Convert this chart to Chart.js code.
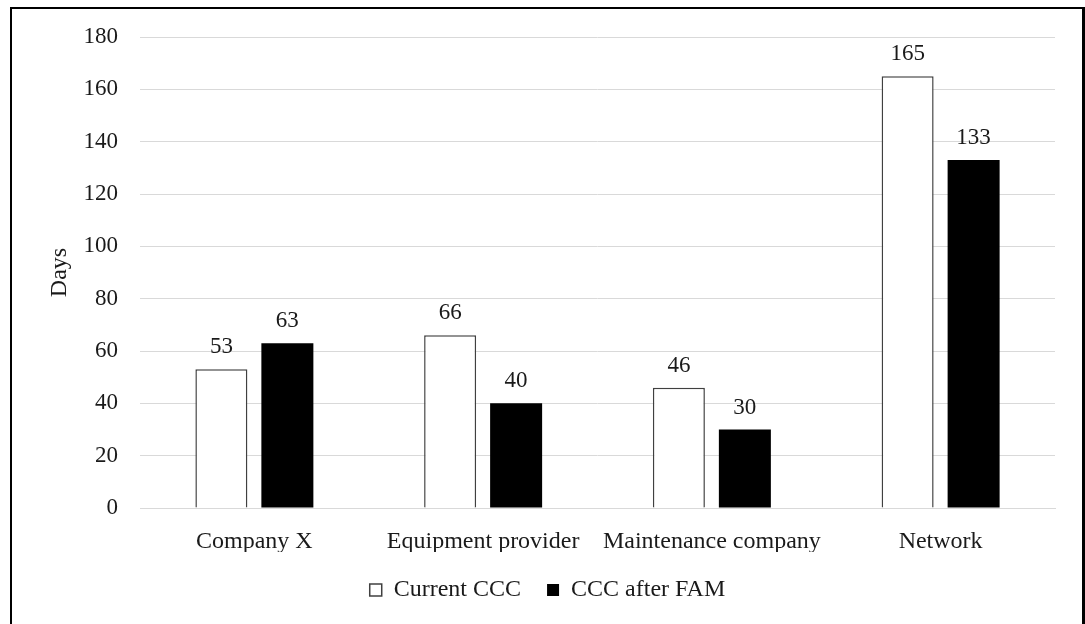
<!DOCTYPE html>
<html>
<head>
<meta charset="utf-8">
<script src="https://cdn.jsdelivr.net/npm/chart.js@4.4.1/dist/chart.umd.min.js"></script>
<style>
  html, body { margin: 0; padding: 0; background: #fff; width: 1085px; height: 624px; overflow: hidden; }
  #frame { position: absolute; left: 10px; top: 7px; width: 1070px; height: 700px; border: 2px solid #000; border-right-width: 3px; }
  #c { position: absolute; left: 0; top: 0; }
</style>
</head>
<body>
<div id="frame"></div>
<canvas id="c" width="1085" height="624"></canvas>
<script>
// Cash conversion cycle, in days
const categories = ['Company X', 'Equipment provider', 'Maintenance company', 'Network'];
const currentCCC = [53, 66, 46, 165];
const cccAfterFAM = [63, 40, 30, 133];
const seriesNames = ['Current CCC', 'CCC after FAM'];
const yMin = 0, yMax = 180, yStep = 20;

const FONT = 'Liberation Serif, "Times New Roman", serif';
const TEXT = '#1a1a1a';

// Value labels above each bar
const barValueLabels = {
  id: 'barValueLabels',
  afterDatasetsDraw(chart) {
    const ctx = chart.ctx;
    ctx.save();
    ctx.font = '23px ' + FONT;
    ctx.fillStyle = TEXT;
    ctx.textAlign = 'center';
    ctx.textBaseline = 'alphabetic';
    chart.data.datasets.forEach((ds, i) => {
      chart.getDatasetMeta(i).data.forEach((bar, j) => {
        ctx.fillText(String(ds.data[j]), bar.x, bar.y - 16);
      });
    });
    ctx.restore();
  }
};

new Chart(document.getElementById('c'), {
  type: 'bar',
  data: {
    labels: categories,
    datasets: [
      {
        label: seriesNames[0],
        data: currentCCC,
        backgroundColor: '#ffffff',
        borderColor: '#404040',
        borderWidth: 1.5,
        categoryPercentage: 0.577,
        barPercentage: 0.788
      },
      {
        label: seriesNames[1],
        data: cccAfterFAM,
        backgroundColor: '#000000',
        borderColor: '#000000',
        borderWidth: 0,
        categoryPercentage: 0.577,
        barPercentage: 0.788
      }
    ]
  },
  options: {
    responsive: false,
    animation: false,
    devicePixelRatio: 1,
    layout: { padding: { left: 40, right: 30, top: 37, bottom: 12 } },
    scales: {
      x: {
        grid: { display: false },
        border: { display: true, color: '#d9d9d9', width: 1 },
        ticks: { color: TEXT, font: { family: FONT, size: 24 }, padding: 11, maxRotation: 0, autoSkip: false },
        afterFit(s) { s.height = 44; }
      },
      y: {
        min: yMin,
        max: yMax,
        ticks: { stepSize: yStep, color: TEXT, font: { family: FONT, size: 23 }, padding: 22 },
        grid: { color: '#d9d9d9', lineWidth: 1, drawTicks: false },
        border: { display: false },
        title: { display: true, text: 'Days', color: TEXT, font: { family: FONT, size: 24 }, padding: { top: 5, bottom: 0 } },
        afterFit(s) { s.width = 100; }
      }
    },
    plugins: {
      legend: {
        position: 'bottom',
        labels: {
          color: TEXT,
          font: { family: FONT, size: 24 },
          boxWidth: 12,
          boxHeight: 12,
          padding: 26
        }
      },
      tooltip: { enabled: false }
    }
  },
  plugins: [barValueLabels]
});
</script>
</body>
</html>
